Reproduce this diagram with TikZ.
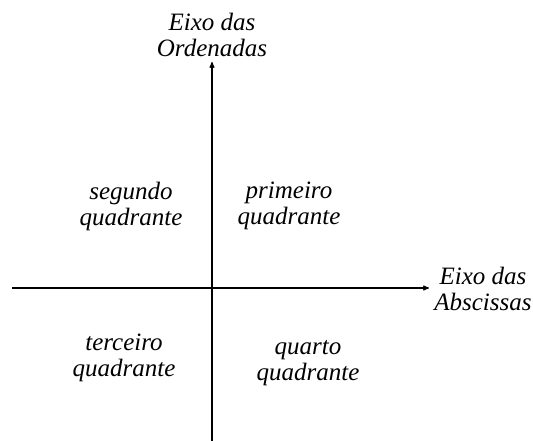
\documentclass[tikz,border=0pt]{standalone}
\usepackage{fontspec}
\setmainfont{Liberation Serif}
\usepackage{tikz}
\usetikzlibrary{arrows,positioning}

\begin{document}
\begin{tikzpicture}[x=1pt,y=-1pt,>=stealth',
	rotulo/.style={align=center,inner sep=0pt,font=\fontsize{25}{26}\selectfont\itshape}]
	\useasboundingbox (0,0) rectangle (533,441);
	\coordinate (xa) at (12,288);
	\coordinate (xb) at (429,288);
	\coordinate (ya) at (212,441);
	\coordinate (yb) at (212,62);
	\node[rotulo] (eo) at (212,35) {Eixo das\\Ordenadas};
	\node[rotulo] (ea) at (483,289) {Eixo das\\Abscissas};
	\node[rotulo] (q2) at (131,206) {segundo\\quadrante};
	\node[rotulo] (q1) at (289,206) {primeiro\\quadrante};
	\node[rotulo] (q3) at (124,358) {terceiro\\quadrante};
	\node[rotulo] (q4) at (308,363) {quarto\\quadrante};
	\draw [->,line width=1.1pt] (xa) -- (xb);
	\draw [->,line width=1.1pt] (ya) -- (yb);
\end{tikzpicture}
\end{document}
